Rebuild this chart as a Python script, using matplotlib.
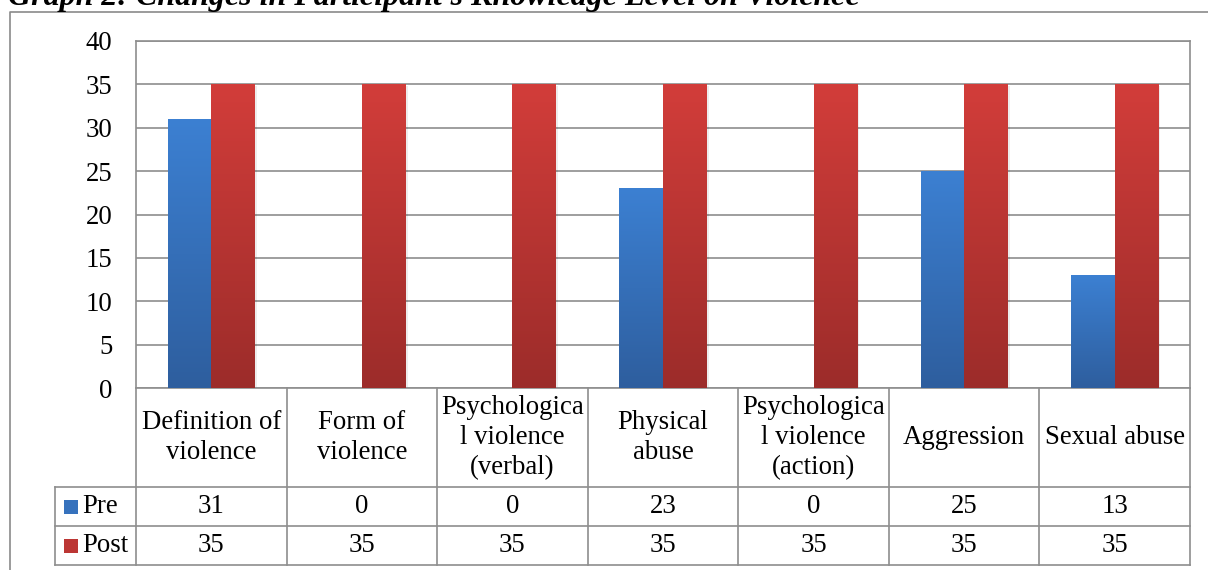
import numpy as np
import matplotlib
matplotlib.use("Agg")
import matplotlib.pyplot as plt
from matplotlib.colors import LinearSegmentedColormap
from matplotlib.lines import Line2D
from matplotlib.patches import Rectangle

# data
categories = ["Definition of\nviolence", "Form of\nviolence",
              "Psychologica\nl violence\n(verbal)", "Physical\nabuse",
              "Psychologica\nl violence\n(action)", "Aggression", "Sexual abuse"]
pre = [31, 0, 0, 23, 0, 25, 13]
post = [35, 35, 35, 35, 35, 35, 35]
series_names = ["Pre", "Post"]
yticks = [0, 5, 10, 15, 20, 25, 30, 35, 40]
title = "Graph 2: Changes in Participant's Knowledge Level on Violence"

plt.rcParams['font.family'] = ['Liberation Serif', 'DejaVu Serif']
FS = 19.3

W, H = 1208, 570
fig = plt.figure(figsize=(W / 100, H / 100), dpi=100)

# plot area in pixels
L, R, T, B = 136, 1190, 41, 388
ax = fig.add_axes([L / W, 1 - B / H, (R - L) / W, (B - T) / H])

blue_cm = LinearSegmentedColormap.from_list("b", ["#2e5e9e", "#3c80d2"])
red_cm = LinearSegmentedColormap.from_list("r", ["#9c2c2a", "#d23d3a"])
grad = np.linspace(0, 1, 256).reshape(-1, 1)

def gradient_bar(ax, x, h, w, cmap):
    if h <= 0:
        return
    bar = ax.bar(x, h, w, color="none", linewidth=0, zorder=3)[0]
    # soft shadow
    ax.add_patch(Rectangle((x - w / 2 + 0.015, 0), w, h - 0.15,
                           color="#000000", alpha=0.07, lw=0, zorder=2))
    im = ax.imshow(grad, cmap=cmap, origin="lower", aspect="auto",
                   extent=[x - w / 2, x + w / 2, 0, h], zorder=3)
    im.set_clip_path(bar)

w = 0.289
xs = np.arange(len(categories))
for i in xs:
    gradient_bar(ax, i - w / 2, pre[i], w, blue_cm)
    gradient_bar(ax, i + w / 2, post[i], w, red_cm)

ax.set_xlim(-0.5, len(categories) - 0.5)
ax.set_ylim(0, 40)
ax.set_yticks(yticks)
ax.set_yticklabels([str(v) for v in yticks], fontsize=FS)
ax.set_xticks([])
ax.tick_params(axis="y", length=0, pad=17)
ax.grid(axis="y", color="#8e8e8e", lw=1.2, zorder=1)
ax.set_axisbelow(True)
for s in ax.spines.values():
    s.set_color("#8e8e8e")
    s.set_linewidth(1.2)

# data table below the plot
gc = "#8e8e8e"
tr = ax.get_xaxis_transform()
h_px = B - T
row_y = [-(487 - B) / h_px, -(526 - B) / h_px, -(565 - B) / h_px]
leg_x = -(L - 55) / (R - L)

for k in range(len(categories) + 1):
    ax.add_line(Line2D([k - 0.5, k - 0.5], [0, row_y[2]], transform=tr,
                       color=gc, lw=1.2, clip_on=False))
for y in row_y:
    ax.add_line(Line2D([leg_x, 1], [y, y], transform=ax.transAxes,
                       color=gc, lw=1.2, clip_on=False))
ax.add_line(Line2D([leg_x, leg_x], [row_y[0], row_y[2]], transform=ax.transAxes,
                   color=gc, lw=1.2, clip_on=False))

head_c = row_y[0] / 2
pre_c = (row_y[0] + row_y[1]) / 2
post_c = (row_y[1] + row_y[2]) / 2
for i, c in enumerate(categories):
    ax.text(i, head_c, c, transform=tr, ha="center", va="center",
            fontsize=FS, linespacing=1.27)
    ax.text(i, pre_c, str(pre[i]), transform=tr, ha="center", va="center", fontsize=FS)
    ax.text(i, post_c, str(post[i]), transform=tr, ha="center", va="center", fontsize=FS)

# legend keys in table
sq = 14 / (R - L)
sq_h = 14 / h_px
for name, yc, cm in [(series_names[0], pre_c, blue_cm), (series_names[1], post_c, red_cm)]:
    x0 = (64 - L) / (R - L)
    ax.add_patch(Rectangle((x0, yc - sq_h / 2), sq, sq_h, transform=ax.transAxes,
                           facecolor=cm(0.6), lw=0, clip_on=False))
    ax.text((82 - L) / (R - L), yc, name, transform=ax.transAxes,
            ha="left", va="center", fontsize=FS)

# outer frame and cut-off title
fig.add_artist(Line2D([10 / W, 10 / W, 1.0], [0, 1 - 12 / H, 1 - 12 / H],
                      transform=fig.transFigure, color="#8a8a8a", lw=1.2))
fig.text(8 / W, 1 - 5 / H, title, fontsize=23, fontweight="bold",
         fontstyle="italic", ha="left", va="baseline")

fig.savefig("out.png", dpi=100)
